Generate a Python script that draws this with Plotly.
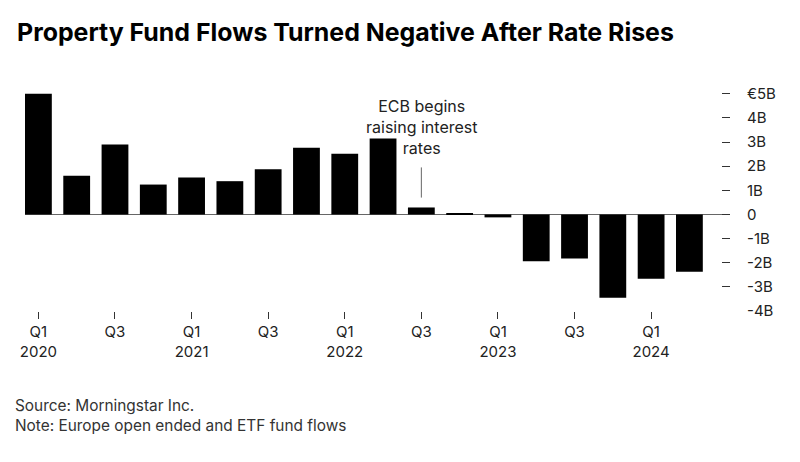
import plotly.graph_objects as go

quarters = ["Q1 2020", "Q2 2020", "Q3 2020", "Q4 2020",
            "Q1 2021", "Q2 2021", "Q3 2021", "Q4 2021",
            "Q1 2022", "Q2 2022", "Q3 2022", "Q4 2022",
            "Q1 2023", "Q2 2023", "Q3 2023", "Q4 2023",
            "Q1 2024", "Q2 2024"]
flows_bn = [5.0, 1.6, 2.9, 1.24, 1.53, 1.38, 1.87, 2.77, 2.52, 3.15,
            0.29, 0.04, -0.12, -1.94, -1.82, -3.45, -2.66, -2.37]

x_tick_vals = quarters[::2]
x_tick_text = ["Q1<br>2020", "Q3", "Q1<br>2021", "Q3", "Q1<br>2022", "Q3",
               "Q1<br>2023", "Q3", "Q1<br>2024"]
y_tick_vals = [5, 4, 3, 2, 1, 0, -1, -2, -3, -4]
y_tick_text = ["€5B", "4B", "3B", "2B", "1B", "0", "-1B", "-2B", "-3B", "-4B"]

title_text = "Property Fund Flows Turned Negative After Rate Rises"
note_text = "Source: Morningstar Inc.<br>Note: Europe open ended and ETF fund flows"
event_quarter = "Q3 2022"
event_text = "ECB begins<br>raising interest<br>rates"

FONT = "Inter, Liberation Sans, Arial, sans-serif"
W, H = 800, 462
L, R, T, B = 25, 70, 89, 151
plot_w = W - L - R
plot_h = H - T - B

def px(xp):
    return (xp - L) / plot_w

def py(yp):
    return (H - B - yp) / plot_h

fig = go.Figure()
fig.add_trace(go.Bar(x=quarters, y=flows_bn, marker=dict(color="#000000", line=dict(width=0)),
                     hoverinfo="x+y"))

fig.update_layout(
    width=W, height=H,
    margin=dict(l=L, r=R, t=T, b=B),
    paper_bgcolor="white", plot_bgcolor="white",
    bargap=0.3, showlegend=False,
    font=dict(family=FONT, color="#222222"),
    xaxis=dict(type="category", range=[-0.35, 18.06], tickmode="array",
               tickvals=x_tick_vals, ticktext=x_tick_text,
               ticks="outside", ticklen=7, tickwidth=1, tickcolor="#333333",
               tickfont=dict(size=15, color="#222222", family=FONT),
               showgrid=False, showline=False, zeroline=False),
    yaxis=dict(range=[-4, 5.2], side="right", tickmode="array",
               tickvals=y_tick_vals, ticktext=y_tick_text,
               ticks="inside", ticklen=8, tickwidth=1, tickcolor="#333333",
               ticklabelstandoff=16,
               tickfont=dict(size=15, color="#222222", family=FONT),
               showgrid=False, showline=False,
               zeroline=True, zerolinecolor="#666666", zerolinewidth=1),
)

fig.add_annotation(text="<b>" + title_text + "</b>", xref="paper", yref="paper",
                   x=px(15), y=py(49), xanchor="left", yanchor="bottom", showarrow=False,
                   font=dict(size=24.9, color="#000000", family=FONT))
fig.add_annotation(text=note_text, xref="paper", yref="paper",
                   x=px(13), y=py(437), xanchor="left", yanchor="bottom", align="left",
                   showarrow=False, font=dict(size=15.4, color="#333333", family=FONT))
fig.add_annotation(text=event_text, xref="x", yref="paper", x=event_quarter,
                   y=py(160), xanchor="center", yanchor="bottom", align="center",
                   showarrow=False, font=dict(size=16, color="#222222", family=FONT))
fig.add_shape(type="line", xref="x", yref="y", x0=event_quarter, x1=event_quarter,
              y0=0.7, y1=1.95, line=dict(color="#666666", width=1))

fig.write_html("out.html", config={"displayModeBar": False},
               post_script="document.body.style.margin='0px';")
